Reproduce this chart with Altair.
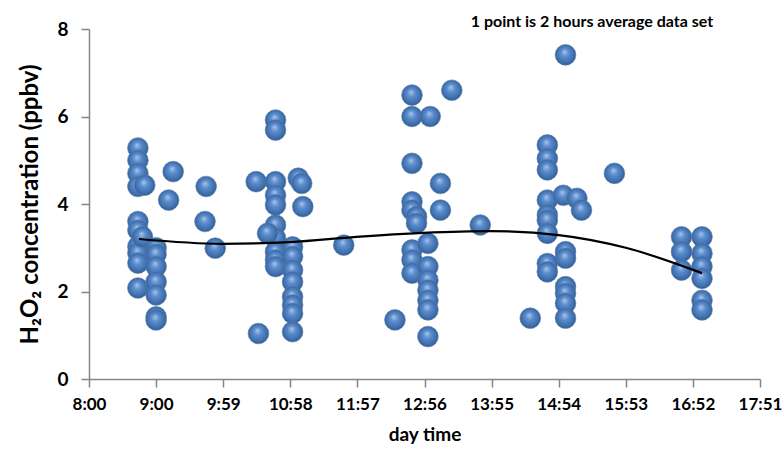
import altair as alt
import pandas as pd

# ---- data (time in minutes after midnight, H2O2 in ppbv) ----
col_523 = [5.28, 5.0, 4.70, 4.40, 3.6, 3.4, 3.03, 2.88, 2.65, 2.08]
col_529 = [4.43]
col_527 = [3.25]
col_539 = [3.0, 2.85, 2.57, 2.22, 1.92, 1.42, 1.35]
col_554 = [4.74]
col_550 = [4.09]
col_583 = [4.40]
col_582 = [3.6]
col_591 = [2.99]
col_627 = [4.51]
col_629 = [1.04]
col_644 = [5.92, 5.69, 4.51, 4.2, 3.98, 3.52, 3.22, 2.91, 2.72, 2.57]
col_637 = [3.33]
col_664 = [4.59]
col_667 = [4.47]
col_668 = [3.94]
col_659 = [3.02, 2.8, 2.49, 2.22, 1.88, 1.69, 1.5, 1.08]
col_704 = [3.06]
col_749 = [1.35]
col_764 = [6.49, 6.0, 4.93, 4.05, 3.86, 2.95, 2.72, 2.42]
col_768 = [3.71, 3.56]
col_780 = [6.0]
col_799 = [6.6]
col_789 = [4.47, 3.86]
col_824 = [3.52]
col_778 = [3.1, 2.57, 2.26, 2.03, 1.8, 1.58, 0.97]
col_899 = [7.41, 2.91, 2.76, 2.11, 1.96, 1.73, 1.39]
col_883 = [5.35, 5.04, 4.78, 4.09, 3.75, 3.63, 3.33, 2.64, 2.45]
col_897 = [4.2]
col_909 = [4.13]
col_913 = [3.86]
col_942 = [4.7]
col_868 = [1.39]
col_1001 = [3.25, 2.91, 2.49]
col_1019 = [3.25, 2.87, 2.57, 2.3, 1.8, 1.58]

columns = {
    523: col_523, 529: col_529, 527: col_527, 539: col_539, 554: col_554,
    550: col_550, 583: col_583, 582: col_582, 591: col_591, 627: col_627,
    629: col_629, 644: col_644, 637: col_637, 664: col_664, 667: col_667,
    668: col_668, 659: col_659, 704: col_704, 749: col_749, 764: col_764,
    768: col_768, 780: col_780, 799: col_799, 789: col_789, 824: col_824,
    778: col_778, 899: col_899, 883: col_883, 897: col_897, 909: col_909,
    913: col_913, 942: col_942, 868: col_868, 1001: col_1001, 1019: col_1019,
}

# trend line
trend_minutes = [524, 597, 657, 715, 774, 833, 893, 952, 1019]
trend_values = [3.2, 3.09, 3.13, 3.25, 3.34, 3.38, 3.29, 3.0, 2.42]

tick_minutes = [480, 539, 598, 657, 716, 775, 834, 893, 952, 1011, 1070]
tick_labels = ["8:00", "9:00", "9:59", "10:58", "11:57", "12:56",
               "13:55", "14:54", "15:53", "16:52", "17:51"]
y_ticks = [0, 2, 4, 6, 8]

rows = [{"minute": m, "value": v} for m, vals in columns.items() for v in vals]
points = pd.DataFrame(rows)
trend = pd.DataFrame({"minute": trend_minutes, "value": trend_values})

FONT = "Lato"
label_array = "[" + ",".join("'%s'" % s for s in tick_labels) + "]"

x_scale = alt.Scale(domain=[480, 1070], nice=False, zero=False)
y_scale = alt.Scale(domain=[0, 8], nice=False)

x_axis = alt.Axis(values=tick_minutes, labelExpr=label_array + "[round((datum.value-480)/59)]",
                  title="day time", grid=False, domainColor="#868686", tickColor="#868686",
                  tickSize=8, domainWidth=1.5, tickWidth=1.5, labelFont=FONT, labelFontSize=17,
                  labelFontWeight="bold", labelColor="black", labelPadding=9,
                  titleFont=FONT, titleFontSize=19, titleFontWeight="bold", titleColor="black",
                  titlePadding=13, labelFlush=False)
y_axis = alt.Axis(values=y_ticks, title="H₂O₂ concentration (ppbv)", grid=False,
                  domainColor="#868686", tickColor="#868686", tickSize=8, domainWidth=1.5,
                  tickWidth=1.5, labelFont=FONT, labelFontSize=19, labelFontWeight="bold",
                  labelColor="black", labelPadding=13, titleFont=FONT, titleFontSize=24,
                  titleFontWeight="bold", titleColor="black", titlePadding=14)

sphere = alt.RadialGradient(
    gradient="radial",
    stops=[alt.GradientStop(color="#a9c6ec", offset=0.0),
           alt.GradientStop(color="#5b8ccc", offset=0.35),
           alt.GradientStop(color="#3f6fae", offset=0.75),
           alt.GradientStop(color="#2a5489", offset=1.0)],
    x1=0.45, y1=0.35, r1=0.0, x2=0.5, y2=0.5, r2=0.55,
)

pts = alt.Chart(points).mark_point(
    shape="circle", filled=True, size=430, fill=sphere, opacity=1,
    stroke="#5d7fa8", strokeWidth=0.8, strokeOpacity=0.8,
).encode(
    x=alt.X("minute:Q", scale=x_scale, axis=x_axis),
    y=alt.Y("value:Q", scale=y_scale, axis=y_axis),
)

line = alt.Chart(trend).mark_line(color="black", strokeWidth=2.2, interpolate="monotone").encode(
    x=alt.X("minute:Q", scale=x_scale),
    y=alt.Y("value:Q", scale=y_scale),
)

note = alt.Chart(pd.DataFrame({"t": ["1 point is 2 hours average data set"]})).mark_text(
    font=FONT, fontSize=16, fontWeight="bold", color="black", align="center", baseline="middle",
).encode(text="t:N", x=alt.value(503), y=alt.value(-7))

chart = alt.layer(pts, line, note).properties(
    width=671, height=350,
    autosize=alt.AutoSizeParams(type="none"),
    padding={"left": 89, "top": 29, "right": 22, "bottom": 73},
).configure_view(stroke=None)

chart.save("out.html", embed_options={"renderer": "svg", "actions": False})
